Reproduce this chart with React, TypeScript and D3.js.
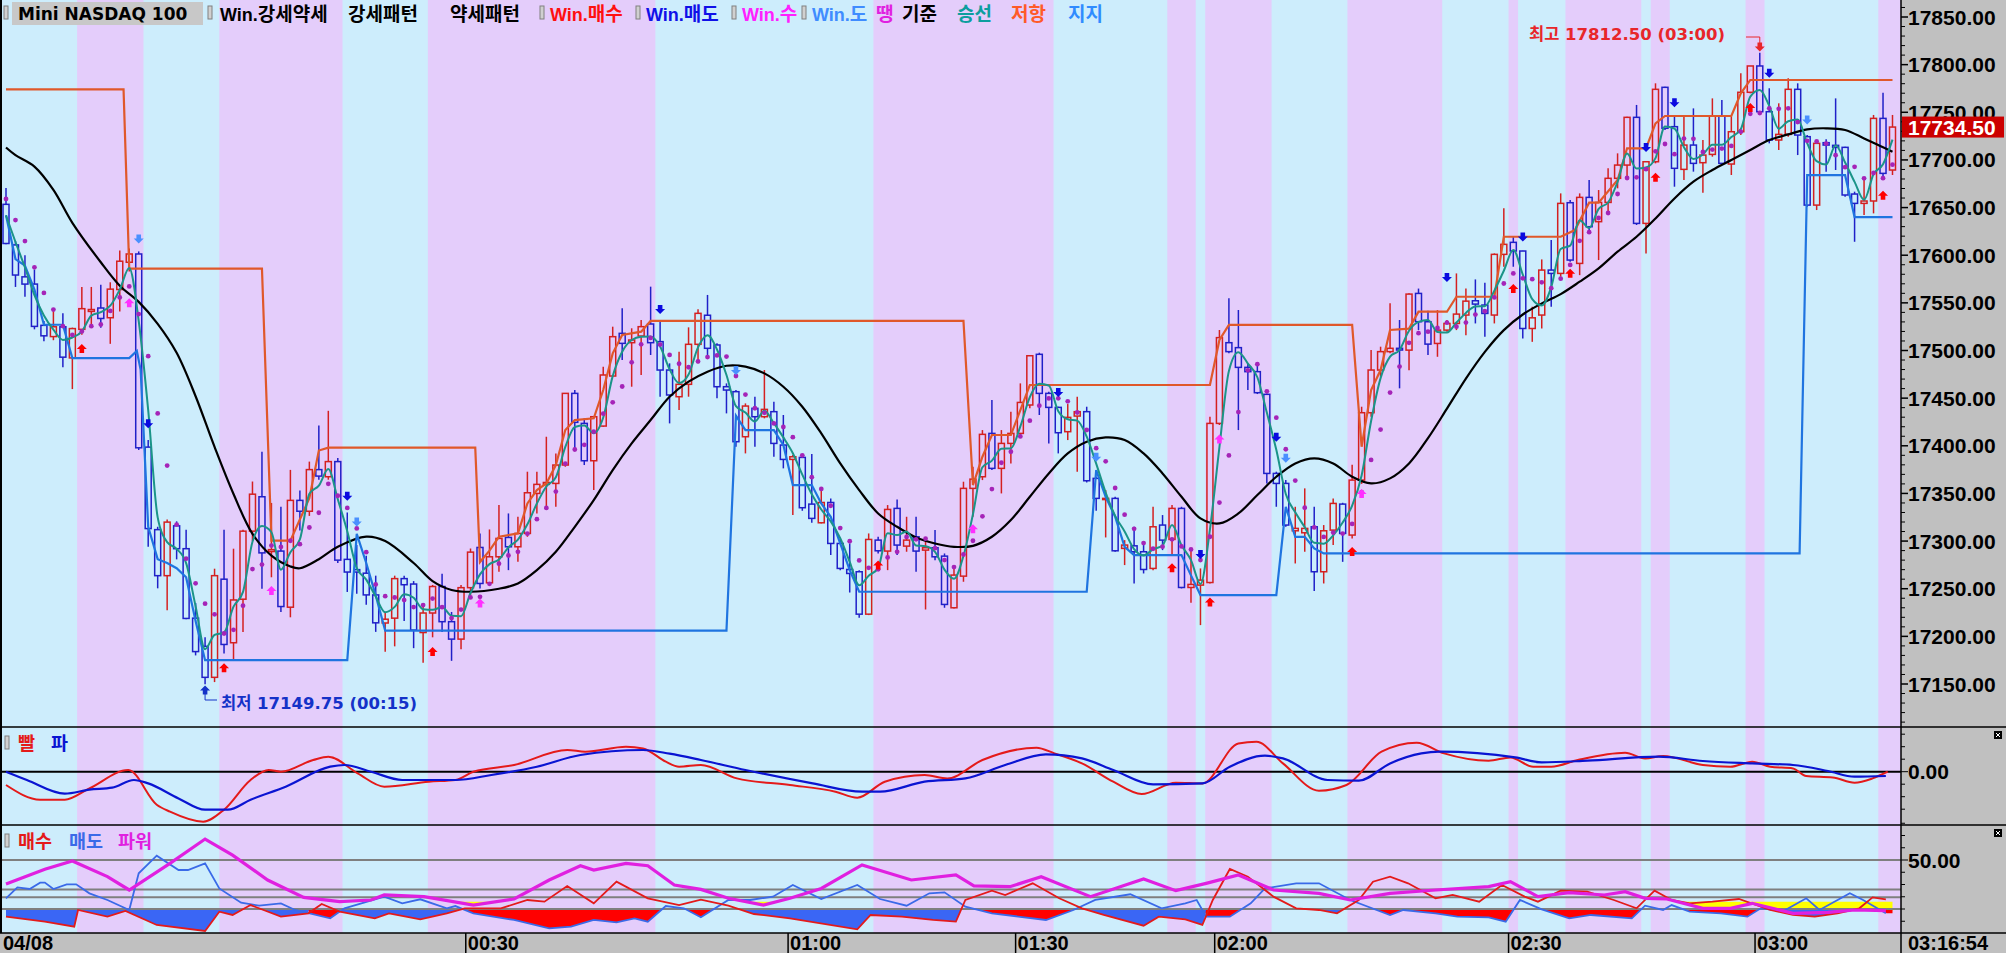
import React from "react";
import * as d3 from "d3";

// ---------------- DATA ----------------
const priorCloses = [17690, 17680, 17663, 17650];

const opens = [17653.4,17610.8,17577.3,17569.7,17526.4,17514.6,17524.9,17492.2,17522.2,17541,17544.6,17534.4,17564,17592.6,17601.3,17398.6,17312,17263.7,17316,17292,17219.1,17189.5,17157,17260,17193.3,17239,17310.4,17346.5,17289,17289.5,17230.6,17342.7,17331.3,17375,17367.5,17383.4,17280.8,17270,17266.3,17243.5,17214,17219.1,17260.6,17254.9,17204,17224.5,17252.3,17215.4,17197.1,17251.1,17293.3,17256.2,17283.5,17303.8,17294,17308,17350,17359.5,17360.5,17379.8,17455,17423.5,17384.3,17420.7,17473.2,17518,17508.2,17515.2,17527.8,17509.3,17479.5,17451.5,17464.5,17506.5,17537,17505.8,17462,17456.8,17409.5,17439.3,17430.5,17435.8,17400.8,17385.7,17387.8,17338.8,17319.2,17340.5,17297.5,17270.2,17267.8,17223.3,17301,17289.5,17334.3,17294.7,17304.5,17290.5,17293,17284.2,17230,17263.2,17355.3,17367.5,17413,17376.3,17402.5,17413,17442.8,17496,17455,17440.3,17414.8,17431.2,17435.8,17365.8,17343.7,17344.8,17292.3,17295,17288.8,17271.3,17316.8,17301.7,17334.3,17251.3,17253.8,17256.5,17423.5,17508.2,17503,17482.3,17477.8,17454,17371,17360.5,17310.8,17308.7,17315,17267.8,17311.5,17338.8,17306.3,17364,17434.7,17479.5,17498.8,17502.3,17500.4,17559.9,17530.2,17507.4,17521.4,17528.4,17537.2,17552.2,17547.7,17537.2,17600.9,17613.5,17604.4,17523.1,17537.2,17584.4,17580.9,17655.1,17591.4,17660.7,17635.2,17655.4,17680.7,17694.6,17744.7,17633.4,17698.1,17776.2,17734.9,17690.1,17715.6,17697.1,17705.8,17746.1,17695.7,17729.6,17771,17798.6,17750.6,17720.9,17726.8,17774.1,17724.4,17652.6,17718.1,17715.3,17713.2,17664.2,17654.4,17656.9,17743.6,17689.4];

const highs = [17670.5,17615,17600,17585,17531,17544.3,17539,17524,17566.7,17566.7,17569,17571.6,17605,17607,17604,17406,17315,17322.6,17320.7,17312,17235,17199,17271,17312,17292,17312,17362.5,17393.7,17340,17336,17374.7,17353,17383.4,17421.4,17436.7,17387.2,17330,17296,17284.6,17263.7,17225.6,17263.7,17263.7,17258,17231.3,17254,17265.6,17225.6,17254,17292.2,17308,17312.2,17337.8,17329,17325.5,17372.8,17372.8,17409.5,17392,17455,17458.5,17428.8,17430.5,17483,17525,17544.3,17523.3,17532,17567,17530.3,17486.5,17498.8,17524.3,17543.2,17558.3,17507.5,17465.5,17458.5,17444.5,17451.5,17479.5,17446.3,17432.3,17390.3,17391.3,17391.3,17353.5,17344.8,17301,17297.5,17269.5,17308,17304.5,17337.8,17343.7,17325.5,17325.5,17301,17311.5,17287,17274.8,17362.3,17378,17416.5,17448,17416.5,17435.8,17465.5,17494.5,17497.7,17456.8,17441,17443.8,17451.5,17441,17367.5,17353.5,17346.5,17301,17315,17299.3,17336,17327.3,17337.8,17336,17292.3,17271.3,17430.5,17521.5,17554.8,17542.5,17486.5,17484.8,17455,17372.8,17364,17336,17355.3,17336,17316.8,17344.8,17340.2,17380,17441,17500.5,17504,17549.5,17532,17560,17565,17541.7,17542.4,17531.9,17580.9,17565,17574.6,17571.1,17601.9,17649.2,17619.4,17604.7,17545.9,17595.6,17615.9,17664.9,17657.9,17664.9,17678.9,17668.4,17691.2,17706.9,17745.4,17757.7,17698.1,17780.4,17776.9,17745.4,17747.2,17754.1,17720.9,17764.6,17762.9,17745.4,17790.9,17798.6,17812.5,17775.2,17759.4,17785.6,17780.4,17726.1,17720.9,17721.6,17764.6,17713.9,17666.7,17678.9,17747.2,17770.6,17747.2];

const lows = [17611.5,17566.7,17556.4,17522.2,17509.7,17510.8,17482.3,17459.5,17516.5,17524,17524,17507,17541,17583,17395.6,17294,17250.4,17227.5,17280.8,17218,17180,17149.75,17152,17182,17176,17204.7,17300,17250,17262,17225.6,17220,17311,17326.4,17364.4,17364.4,17277,17246.6,17244.7,17233.3,17204.7,17183.8,17189.5,17216,17187.6,17172.4,17199,17204.7,17174.3,17186.5,17242.8,17250.2,17253.8,17267.8,17269.5,17278.2,17304.5,17329,17336,17336,17378,17395.5,17379.8,17353.5,17420,17472.5,17490,17462,17474.3,17495.3,17451.5,17423.5,17437.5,17451.5,17486.5,17493.5,17449.8,17434,17399,17392,17399,17428.8,17388.5,17376.3,17327.3,17331.8,17319.2,17318.5,17285.3,17269.5,17246,17219.5,17222.3,17287,17269.5,17285.3,17288.8,17267.8,17228.2,17280,17230,17229.3,17257.3,17325.5,17364,17374.5,17350,17381.5,17409.5,17439.3,17432.3,17402.5,17392,17406,17372.8,17361.5,17331.8,17303.8,17288.8,17274.8,17255.5,17266,17269.5,17290.5,17285.3,17250.3,17235.2,17211.8,17255.5,17421.8,17497,17416.5,17458.5,17454.3,17360.5,17336,17315,17276.5,17288.8,17247.5,17255.5,17295.8,17278.2,17302.8,17360,17430.5,17472.5,17497,17460.3,17479.4,17521.4,17495.2,17493.4,17519.6,17521.4,17516.1,17528.4,17514.4,17528.4,17587.9,17587.9,17512.6,17509.1,17523.1,17545.9,17577.4,17593.1,17579.1,17624.6,17594.9,17643.9,17670.2,17678.9,17631.7,17601.9,17696.4,17731.4,17671.9,17678.9,17687.7,17665.6,17703.4,17694.6,17684.2,17726.1,17769.9,17748.9,17717.4,17710.4,17724.4,17705.1,17650.9,17647.4,17687.7,17689.4,17661.4,17614.1,17642.1,17643.9,17680.7,17684.2];

const closes = [17612.3,17579.2,17569.7,17525.3,17515.4,17524.9,17493,17523,17543.9,17543,17533.6,17564.4,17593.7,17601.3,17397.9,17313.1,17263.7,17319.9,17292,17218.8,17184,17157,17263.7,17191.5,17238.2,17310.4,17349.2,17287.6,17291,17231.3,17342.7,17331.3,17375,17368.2,17383.4,17280,17267.5,17267.5,17243.5,17214.2,17218,17260.6,17254.2,17206.6,17224.5,17252.3,17215.4,17197.1,17251.1,17288.4,17255.5,17283.5,17302.8,17294,17308,17350.7,17359.5,17361.5,17379.8,17455,17424.6,17384.3,17430.5,17474.3,17514.5,17507.5,17511,17525,17508.2,17479.5,17453.3,17464.5,17506.5,17539,17502.3,17462,17458.5,17404.3,17441.7,17430.5,17438.2,17402.5,17385.7,17388.5,17335,17323.8,17340.5,17297.5,17271.3,17266,17223.3,17301.7,17289.8,17333.2,17295.8,17301,17289.5,17293,17283.5,17233.5,17264.3,17355.3,17365,17412,17376.3,17402.5,17413,17445.5,17494.5,17455,17440.3,17413.7,17429.8,17435.8,17363.3,17344.8,17344.8,17289.8,17295.8,17288.8,17270.2,17315,17301,17334.3,17251.3,17254.5,17259,17423.5,17513.5,17498.8,17482.3,17477.8,17455.7,17371,17360.5,17316.8,17313.3,17313.3,17267.8,17310.8,17339.5,17308,17364,17434.7,17479.5,17498.8,17502.3,17500.5,17559.2,17530.2,17506.7,17521.4,17528.4,17538.2,17551.8,17548.7,17538.9,17600.9,17611.4,17604.4,17523.1,17534.3,17584.4,17580.9,17654.4,17594.9,17660.7,17629.9,17655.4,17680.7,17694.6,17744.7,17633.4,17698.1,17774.1,17733.2,17691.2,17715.6,17696.4,17705.1,17746.1,17696.4,17729.6,17771,17798.6,17750.6,17720.9,17726.8,17774.1,17726.1,17652.6,17717.4,17715.6,17713.2,17663.2,17654.4,17656.9,17743.6,17685.9,17734.5];

// 기준 (black) keypoints [bar, price]
const baseKeys = [[0,17713],[1,17705],[3,17693],[5,17668.6],[7,17634],[10,17592.6],[12,17568],[14,17551],[16,17528],[18,17497.6],[20,17452],[22,17398.8],[24,17349.4],[26,17307.6],[28,17284.8],[30,17273.4],[31,17271.5],[33,17281],[35,17294],[38,17304.6],[40,17300],[43,17277],[45,17258],[47,17248.7],[49,17246.8],[52,17250],[54,17255.5],[56,17269.5],[58,17288.8],[60,17315],[62,17343],[64,17374.5],[66,17402.5],[68,17427],[70,17451.5],[72,17467.3],[74,17477.8],[76,17484],[78,17483],[80,17476],[82,17462],[84,17441],[86,17413],[88,17381.5],[90,17353.5],[92,17329],[94,17315],[96,17303.8],[98,17297.5],[100,17294],[102,17295],[104,17304.5],[106,17322],[108,17346.5],[110,17371],[112,17392],[114,17404.3],[116,17408.8],[118,17406],[120,17392],[122,17371],[124,17346.5],[126,17323.8],[128,17318.5],[130,17329],[132,17348.3],[134,17367.5],[136,17381.5],[138,17386.8],[140,17381.5],[142,17367.5],[144,17360.5],[146,17365.8],[148,17381.5],[150,17408],[152,17439],[154,17470.6],[156,17498.6],[158,17521.4],[160,17537.8],[162,17549.4],[164,17559.2],[166,17572.2],[168,17586.2],[170,17603.7],[172,17619.4],[174,17638.6],[176,17659.6],[178,17677.2],[180,17689.4],[182,17699.9],[184,17710.4],[186,17720.9],[188,17726.8],[190,17732.1],[192,17733.2],[194,17731.4],[196,17722.6],[198,17713.2],[199,17708.6]];

// 지지 (support) keypoints
const supportKeys = [[0,17642],[1,17596],[2,17589],[3,17564],[4,17527],[6,17527],[7,17492],[13,17492],[13.8,17499.5],[14.2,17480],[15,17315],[16,17281],[17,17277],[18,17271.5],[19,17262],[20,17216],[21,17175],[36,17175],[37,17307.6],[38,17277],[39,17243],[40,17206],[76,17206],[77,17431.5],[78,17416.5],[81,17416.5],[82,17400.8],[83,17358.8],[85,17358.8],[86,17339.5],[87,17325.5],[88,17297.5],[89,17269.5],[90,17246.8],[114,17246.8],[115,17374.5],[116,17346.5],[117,17325.5],[118,17294],[119,17285.3],[124,17285.3],[125,17264],[126,17243.3],[134,17243.3],[135,17336],[136,17304.5],[137,17304.5],[138,17292.3],[139,17287],[189.2,17287],[190,17684],[194,17684],[195,17640],[199,17640]];

// 저항 (resistance) keypoints
const resistKeys = [[0,17774],[12.4,17774],[13,17586],[27,17586],[28,17300.5],[30,17300.5],[32,17345],[33,17395],[34,17398],[49.5,17398],[50,17278],[51,17290],[52,17304.5],[54,17308],[55,17339.5],[56,17353.5],[57,17360.5],[58,17379.8],[59,17416.5],[60,17427],[62,17428.8],[63,17458.5],[64,17497],[65,17516.3],[67,17519.8],[68,17531],[101,17531],[102,17358.8],[103,17388.5],[104,17411.3],[106,17411.3],[107,17437.5],[108,17463.8],[127,17463.8],[128,17511],[129,17526.8],[142,17526.8],[143,17399],[144,17458.5],[145,17479.5],[146,17521.5],[148,17523],[149,17540.7],[152,17540.7],[153,17556.4],[157,17556.4],[158,17619.4],[164,17619.4],[165.5,17626.4],[167,17655.1],[168,17655.1],[170,17678.9],[171,17712.2],[173,17712.2],[174,17738.4],[175,17746.1],[182,17746.1],[183,17769.9],[184,17783.9],[199,17783.9]];

// signal arrows [bar, price]
const buySignals = [[8,17502],[23,17167],[45,17184],[92,17275],[123,17272],[127,17236],[142,17289],[159,17565],[165,17581],[174,17681.7],[184,17755],[198,17663]];
const sellSignals = [[15,17423],[36,17347],[69,17543],[111,17456],[126,17286],[134,17409],[152,17576.7],[160,17619],[173,17713],[176,17760],[186,17791]];
const buy2Signals = [[13,17550],[28,17248],[50,17235],[102,17313],[128,17407],[143,17350]];
const sell2Signals = [[14,17617],[37,17320],[77,17479],[115,17388],[135,17387],[190,17742]];

// background bands (bars)
const bandStarts = [8,23,45,92,123,127,142,159,165,174,184,198];
const bandEnds = [14,35,68,110,125,133,151,159,172,175,185,199];

// 빨 / 파 oscillator keypoints [bar, value]
const redOsc = [[0,-13.3],[3.6,-28],[6.2,-28],[8.8,-16.7],[12.9,1.7],[15.9,-33],[17.3,-40],[20.8,-50],[23,-38],[25.8,-8.3],[27.7,1.7],[29,0],[32.4,11.7],[34,15],[37.1,-1.7],[39.9,-15],[44.6,-10],[47.4,-8.3],[49.3,0],[53.6,6.7],[59.2,21.7],[61.1,20],[65.4,25],[67.2,23.3],[69.6,10],[71,5],[73.3,6.7],[77.1,-6.7],[82.7,-13.3],[87.5,-20],[89.8,-26],[92.7,-10],[96.9,-3.3],[99.3,-6.7],[103,11.7],[108.7,24],[110.6,18.3],[113.5,8.3],[116.8,-10],[119.8,-22.3],[123.4,-11],[126.2,-11.7],[130,28.3],[131.9,30],[134.7,8.3],[138.5,-19],[141.4,-13.3],[145.1,20],[148.8,29],[151.7,18.3],[156.4,11],[158.7,14.3],[161.1,5],[163,5],[165.8,11.7],[170.8,19],[172.9,13.3],[174.8,15.7],[179,6.7],[181.9,5],[184.2,10],[186.1,5],[188.5,3.3],[189.9,-4.3],[192.7,-5.7],[195,-11],[196.9,-6.7],[198.5,0]];
const blueOsc = [[0,0],[2.2,-8.3],[6.2,-22],[8.8,-18],[11.2,-16],[13.5,-8.3],[15,-11.7],[18.2,-26.7],[21,-38],[23.4,-38],[25.8,-28],[29.5,-15],[34.2,5],[35.7,6.7],[38.5,0],[41.8,-8.3],[47.4,-8.3],[51.2,-3.3],[56,5],[60.6,16.7],[67.2,21.7],[70,18],[73.3,11.7],[78,1.7],[85.1,-11.7],[90.3,-20],[92.2,-20],[96.9,-10],[101.2,-6.7],[105.4,6.7],[109.7,17.3],[113.5,13.3],[116.8,1.7],[121,-12.7],[126.2,-11.7],[129.1,5],[132.8,16],[134.7,13.3],[139.4,-8.3],[142.7,-9],[146,8.3],[149.3,18.3],[151.2,20],[159.2,14.3],[162,9.3],[166.8,11],[174.3,15],[179,10.7],[184.2,8.3],[188.5,6.7],[192.2,0.7],[195,-5],[198.3,-4.3]];

// 매수 / 매도 / 파워 keypoints [bar, value]
const buyPow = [[0,-7.8],[4.1,-12.9],[7.2,-18],[7.6,-1],[10.7,-7.8],[12.6,-2],[15.9,-16.3],[21,-22.4],[22.5,-2.7],[23.9,-6.1],[25.8,4],[29,-7.8],[31.9,-4.4],[33.3,5.1],[35.2,-2.7],[38.9,-9.5],[40.4,-4.4],[43.7,-10.5],[46.5,-4.4],[48.4,0.7],[52.2,0.7],[55,9.2],[56.8,7.5],[59.2,23.5],[62,5.8],[64.4,27.9],[67.7,10.9],[71,4],[73.3,9.5],[76.2,3.4],[78.9,-5.1],[82.7,-9.5],[89.8,-20.7],[91.2,-6.1],[94.5,-7.8],[97.8,-11.2],[100.2,-12.9],[101.2,9.2],[104,18.7],[105.4,14.3],[108.3,26.2],[111.1,10.9],[113.5,0.7],[115.8,-6.1],[120,-17],[121.6,-7.8],[124.4,-10.5],[126.2,-16.3],[127.3,9.2],[129.1,40.8],[131,33],[133.7,12.6],[136.1,0.7],[138.5,-1],[140.4,-4.4],[142.7,9.2],[144.2,27.9],[146,33],[147.9,26.2],[150.8,10.9],[152.6,14.3],[155.4,7.5],[157.8,24.5],[160.2,12.6],[161.6,7.5],[164,18.7],[166.8,17.7],[169.6,9.2],[172,0.7],[173.9,18.7],[175.7,9.2],[177.6,5.8],[180,7.5],[182.8,10.2],[186.1,-1],[188.5,-6.1],[190.8,-7.8],[193.2,-4.4],[195.5,0.7],[196.9,11.9],[198.3,9.9]];
const sellPow = [[0,10.9],[1.2,22.1],[2.5,20.4],[3.6,26.9],[4.1,26.9],[5,20.4],[6.4,25.2],[7.4,25.2],[8.8,16],[10.7,9.2],[13,-1],[14,36.4],[15.9,54.4],[18.2,39.8],[19.2,39.8],[21,46.6],[22.5,21],[24.8,6.5],[26.7,3.4],[29,5.8],[30.5,-1],[34.2,-9.5],[35.7,0.7],[39.9,12.6],[41.8,5.8],[43.7,9.9],[46.5,0.7],[47.4,3],[49.3,-4.4],[53.6,-11.2],[57.3,-19.7],[59.6,-18],[62,-11.2],[64.4,-13.6],[66.3,-9.5],[67.7,-12.9],[69.6,3],[71.5,0.7],[73.3,-8.5],[76.2,9.2],[78.5,9.2],[80.9,12.6],[83,24.5],[86,10.2],[89.8,24.5],[92.2,10.2],[95,3.4],[97.4,16],[99,17],[101.2,2.4],[104,-4.4],[109.7,-11.2],[112.6,-1],[114.9,9.2],[118.6,15],[121.9,0.7],[124.4,5.8],[125.6,9.2],[126.6,-7.8],[129.1,-7.8],[131.3,5.8],[132.8,21],[136.1,26.2],[138.5,26.2],[141.8,9.2],[146,-6.1],[147.4,-1],[150.8,-4.4],[153.1,-7.8],[156.4,-8.5],[158.2,-12.9],[159.7,9.2],[162,-0.3],[164.9,-9.5],[167.2,-6.1],[171.5,-9.5],[172.9,3.4],[174.8,-1],[175.7,4],[177.6,-2.7],[180.9,-4.4],[183.7,-7.8],[185.1,0.7],[187.5,-2],[189.9,10.9],[191.3,-1],[194.5,16],[195.9,9.2],[198.3,-4.4]];
const powerLine = [[0,25.5],[4.1,40.5],[7,49],[10.7,33],[13,19.4],[17.3,46.6],[21,71.4],[23.9,55],[27.6,29.6],[31.4,11.9],[35.2,7.5],[38.5,9.2],[39.9,14.3],[44.1,12.6],[49.3,4],[53.6,10.2],[57.3,29.6],[60.6,44.2],[62,39.8],[65.4,46.6],[67.7,44.2],[70.5,24.5],[73.3,20],[76.2,10.9],[79.9,4],[82.7,10.9],[86,21],[90.3,45],[95.5,29.6],[100.2,34.7],[102.1,23.5],[105.9,22.8],[109.2,33],[114.4,12.6],[120,30.6],[123.4,18.7],[126.6,26.2],[130,34.7],[133.7,19.4],[138.5,16],[141.8,9.2],[146,16],[150.8,19.4],[156.4,22.8],[158.7,27.9],[161.6,12.6],[164.9,16.7],[168.6,14.3],[170.8,17.7],[172.9,10.9],[175.2,10.2],[179,0.7],[181.9,0.7],[184.2,5.8],[188.5,-4.4],[192.2,-3.4],[195,-1],[198.3,-1.7]];
const powerLevels = [50, 20, 12, 0];
const yellowLevel = 7.5;

const timeTickBars = [0, 49, 83, 107, 128, 159, 185];
const timeTickLabels = ["04/08", "00:30", "01:00", "01:30", "02:00", "02:30", "03:00"];
const lastTime = "03:16:54";

const legendItems = [
  { t: "Win.강세약세", c: "#000000", x: 220 },
  { t: "강세패턴", c: "#000000", x: 348 },
  { t: "약세패턴", c: "#000000", x: 450 },
  { t: "Win.매수", c: "#ff1010", x: 550 },
  { t: "Win.매도", c: "#1010e8", x: 646 },
  { t: "Win.수", c: "#ff20ff", x: 742 },
  { t: "Win.도", c: "#3f8cff", x: 812 },
  { t: "땡", c: "#e020e0", x: 876 },
  { t: "기준", c: "#000000", x: 902 },
  { t: "승선", c: "#0d9e9e", x: 957 },
  { t: "저항", c: "#ff5a28", x: 1011 },
  { t: "지지", c: "#2f8cff", x: 1068 },
];
const legendMarkers = [4, 208, 540, 636, 732, 802];

// ---------------- COLORS ----------------
const BG_BLUE = "#cdedfc";
const BG_PURPLE = "#e4cdfb";
const AXIS_GRAY = "#c0c0c0";
const UP = "#d42020";
const DOWN = "#2020c8";
const FONT_NUM = "'Liberation Sans', Arial, sans-serif";
const FONT_TXT = "'DejaVu Sans', 'Noto Sans CJK KR', sans-serif";
const FONT_KR = "'Noto Sans CJK KR', sans-serif";

function upArrow(cx: number, cy: number) {
  const hw = 5, hh = 5, sw = 2.3, sh = 4;
  const t = cy - (hh + sh) / 2;
  return `M${cx},${t}L${cx + hw},${t + hh}L${cx + sw},${t + hh}L${cx + sw},${t + hh + sh}L${cx - sw},${t + hh + sh}L${cx - sw},${t + hh}L${cx - hw},${t + hh}Z`;
}
function downArrow(cx: number, cy: number) {
  const hw = 5, hh = 5, sw = 2.3, sh = 4;
  const b = cy + (hh + sh) / 2;
  return `M${cx},${b}L${cx + hw},${b - hh}L${cx + sw},${b - hh}L${cx + sw},${b - hh - sh}L${cx - sw},${b - hh - sh}L${cx - sw},${b - hh}L${cx - hw},${b - hh}Z`;
}

// split text into Hangul / non-Hangul runs
function runs(t: string) {
  const out: { s: string; k: boolean }[] = [];
  for (const ch of t) {
    const k = /[\u3131-\uD79D]/.test(ch);
    if (out.length && out[out.length - 1].k === k) out[out.length - 1].s += ch;
    else out.push({ s: ch, k });
  }
  return out;
}

export default function App() {
  const PR = 1901; // plot right edge
  const x = d3.scaleLinear().domain([0, 199]).range([6, 1892.5]);
  const half = (x(1) - x(0)) / 2;
  const yMain = d3.scaleLinear().domain([17850, 17150]).range([17, 684]);
  const yOsc = d3.scaleLinear().domain([0, 40]).range([771.7, 731.7]);
  const yPow = d3.scaleLinear().domain([0, 50]).range([909, 860]);

  const allC = [...priorCloses, ...closes];
  const sma = (n: number) => closes.map((_, i) => d3.mean(allC.slice(i + 5 - n, i + 5)) as number);
  const teal = sma(3);
  const dots = sma(5);

  const lineMain = (curve: any) => d3.line<any>().x((d) => x(d[0])).y((d) => yMain(d[1])).curve(curve);
  const lineOsc = d3.line<any>().x((d) => x(d[0])).y((d) => yOsc(d[1])).curve(d3.curveMonotoneX);
  const linePow = d3.line<any>().x((d) => x(d[0])).y((d) => yPow(d[1]));

  const pw = (arr: number[][]) => d3.scaleLinear().domain(arr.map((d) => d[0])).range(arr.map((d) => d[1])).clamp(true);
  const rF = pw(buyPow), bF = pw(sellPow), mF = pw(powerLine);
  const samples = d3.range(0, 199.001, 0.2);
  const redArea = d3.area<number>().x((t) => x(t)).y0(yPow(0)).y1((t) => {
    const r = rF(t), b = bF(t);
    return r > b ? yPow(Math.min(b, 0)) : yPow(0);
  })(samples);
  const blueArea = d3.area<number>().x((t) => x(t)).y0(yPow(0)).y1((t) => {
    const r = rF(t), b = bF(t);
    return r <= b ? yPow(Math.min(r, 0)) : yPow(0);
  })(samples);
  const yellowArea = d3.area<number>().x((t) => x(t)).y0(yPow(yellowLevel)).y1((t) => yPow(Math.min(mF(t), yellowLevel)))(samples);

  const majors = d3.range(17150, 17851, 50);
  const minors = d3.range(17110, 17870, 10).filter((v) => v % 50 !== 0);

  const lastY = yMain(closes[closes.length - 1]);

  return (
    <svg width={2006} height={953} style={{ position: "absolute", left: 0, top: 0, display: "block", background: "#fff" }}>
      <defs>
        <clipPath id="cMain"><rect x={0} y={0} width={PR} height={727} /></clipPath>
        <clipPath id="cOsc"><rect x={0} y={727} width={PR} height={98} /></clipPath>
        <clipPath id="cPow"><rect x={0} y={825} width={PR} height={108} /></clipPath>
      </defs>

      <rect x={0} y={0} width={PR} height={933} fill={BG_BLUE} />
      {bandStarts.map((s, i) => {
        const x0 = x(s) - half;
        const x1 = i === bandStarts.length - 1 ? PR : x(bandEnds[i]) + half;
        return <rect key={"b" + i} x={x0} y={0} width={x1 - x0} height={933} fill={BG_PURPLE} />;
      })}

      {/* ---------- main panel ---------- */}
      <g clipPath="url(#cMain)">
        {closes.map((c, i) => {
          const o = opens[i];
          const col = c >= o ? UP : DOWN;
          const cx = x(i);
          const top = yMain(Math.max(o, c));
          const bot = yMain(Math.min(o, c));
          const h = Math.max(bot - top, 1.2);
          return (
            <g key={"c" + i} stroke={col} strokeWidth={1.5} fill="none">
              <line x1={cx} x2={cx} y1={yMain(highs[i])} y2={top} />
              <line x1={cx} x2={cx} y1={top + h} y2={yMain(lows[i])} />
              <rect x={cx - 3} y={top} width={6} height={h} />
            </g>
          );
        })}
        <path d={lineMain(d3.curveCatmullRom)(baseKeys) || ""} fill="none" stroke="#000" strokeWidth={2.2} />
        <path d={lineMain(d3.curveLinear)(resistKeys) || ""} fill="none" stroke="#e0582a" strokeWidth={2.2} />
        <path d={lineMain(d3.curveLinear)(supportKeys) || ""} fill="none" stroke="#1f74e0" strokeWidth={2.2} />
        <path d={lineMain(d3.curveMonotoneX)(teal.map((v, i) => [i, v])) || ""} fill="none" stroke="#1b9488" strokeWidth={2} />
        {dots.map((v, i) => (
          <circle key={"d" + i} cx={x(i)} cy={yMain(v)} r={2.4} fill="#a524b8" />
        ))}
        {buySignals.map((d, i) => <path key={"bs" + i} d={upArrow(x(d[0]), yMain(d[1]))} fill="#ff0000" />)}
        {buy2Signals.map((d, i) => <path key={"bs2" + i} d={upArrow(x(d[0]), yMain(d[1]))} fill="#ff30ff" />)}
        {sellSignals.map((d, i) => <path key={"ss" + i} d={downArrow(x(d[0]), yMain(d[1]))} fill="#0a0ae0" />)}
        {sell2Signals.map((d, i) => <path key={"ss2" + i} d={downArrow(x(d[0]), yMain(d[1]))} fill="#4a90ff" />)}

        <text x={1529} y={40} fontFamily={FONT_TXT} fontWeight="bold" fontSize={16.5} fill="#e8262a">최고 17812.50 (03:00)</text>
        <polyline points={`1746,37 ${x(185)},37 ${x(185)},43`} fill="none" stroke="#e8262a" strokeWidth={1} />
        <path d={downArrow(x(185), 47)} fill="#e8262a" />
        <path d={upArrow(x(21), 690)} fill="#1432c8" />
        <polyline points={`${x(21)},694 ${x(21)},700 217,700`} fill="none" stroke="#1432c8" strokeWidth={1} />
        <text x={221} y={709} fontFamily={FONT_TXT} fontWeight="bold" fontSize={16.5} fill="#1432c8">최저 17149.75 (00:15)</text>
      </g>

      {/* legend */}
      <rect x={12} y={2} width={191} height={23} fill="#c8c8c8" />
      {legendMarkers.map((mx, i) => (
        <rect key={"lm" + i} x={mx} y={6} width={4} height={13} fill="#d0d0d0" stroke="#808080" strokeWidth={1} />
      ))}
      <text x={18} y={20} fontFamily={FONT_TXT} fontWeight="bold" fontSize={17} fill="#000">Mini NASDAQ 100</text>
      {legendItems.map((it, i) => (
        <text key={"lg" + i} x={it.x} y={21} fontWeight="bold" fill={it.c}>
          {runs(it.t).map((r, j) => (
            <tspan key={j} fontFamily={r.k ? FONT_KR : FONT_NUM} fontSize={r.k ? 19 : 18}>{r.s}</tspan>
          ))}
        </text>
      ))}

      {/* ---------- oscillator panel ---------- */}
      <g clipPath="url(#cOsc)">
        <line x1={0} x2={PR} y1={yOsc(0)} y2={yOsc(0)} stroke="#000" strokeWidth={2} />
        <path d={lineOsc(redOsc) || ""} fill="none" stroke="#e41a1a" strokeWidth={2} />
        <path d={lineOsc(blueOsc) || ""} fill="none" stroke="#0a14d2" strokeWidth={2.2} />
      </g>
      <rect x={5} y={736} width={4} height={13} fill="#d0d0d0" stroke="#808080" strokeWidth={1} />
      <text x={18} y={750} fontFamily={FONT_KR} fontWeight="bold" fontSize={18.5} fill="#e41a1a">빨</text>
      <text x={51} y={750} fontFamily={FONT_KR} fontWeight="bold" fontSize={18.5} fill="#0a14d2">파</text>

      {/* ---------- power panel ---------- */}
      <g clipPath="url(#cPow)">
        <path d={yellowArea || ""} fill="#ffff00" />
        <path d={redArea || ""} fill="#ff0000" />
        <path d={blueArea || ""} fill="#3a66f5" />
        {powerLevels.map((lv, i) => (
          <line key={"pl" + i} x1={0} x2={PR} y1={yPow(lv)} y2={yPow(lv)} stroke="#7f7f7f" strokeWidth={2} />
        ))}
        <path d={linePow(sellPow) || ""} fill="none" stroke="#3a6ae8" strokeWidth={1.8} />
        <path d={linePow(buyPow) || ""} fill="none" stroke="#e41a1a" strokeWidth={1.8} />
        <path d={linePow(powerLine) || ""} fill="none" stroke="#e020e0" strokeWidth={3.2} />
      </g>
      <rect x={5} y={834} width={4} height={13} fill="#d0d0d0" stroke="#808080" strokeWidth={1} />
      <text x={18} y={848} fontFamily={FONT_KR} fontWeight="bold" fontSize={18.5} fill="#e41a1a">매수</text>
      <text x={69} y={848} fontFamily={FONT_KR} fontWeight="bold" fontSize={18.5} fill="#3a6ae8">매도</text>
      <text x={118} y={848} fontFamily={FONT_KR} fontWeight="bold" fontSize={18.5} fill="#e020e0">파워</text>

      {/* ---------- axes ---------- */}
      <rect x={PR} y={0} width={2006 - PR} height={953} fill={AXIS_GRAY} />
      <rect x={0} y={933} width={2006} height={20} fill={AXIS_GRAY} />
      <line x1={1} x2={1} y1={0} y2={933} stroke="#000" strokeWidth={2} />
      <line x1={PR} x2={PR} y1={0} y2={953} stroke="#000" strokeWidth={1.5} />
      {[727, 825, 933].map((yy) => (
        <line key={"sep" + yy} x1={0} x2={2006} y1={yy} y2={yy} stroke="#000" strokeWidth={1.5} />
      ))}

      {minors.map((v) => (
        <line key={"mn" + v} x1={PR} x2={PR + 4} y1={yMain(v)} y2={yMain(v)} stroke="#000" strokeWidth={1} />
      ))}
      {majors.map((v) => (
        <g key={"mj" + v}>
          <line x1={PR} x2={PR + 7} y1={yMain(v)} y2={yMain(v)} stroke="#000" strokeWidth={1.5} />
          <text x={1908} y={yMain(v)} dominantBaseline="central" fontFamily={FONT_NUM} fontWeight="bold" fontSize={21} fill="#000">
            {d3.format(".2f")(v)}
          </text>
        </g>
      ))}
      <rect x={1902} y={lastY - 10.5} width={102} height={21} fill="#cc0000" />
      <text x={1908} y={lastY} dominantBaseline="central" fontFamily={FONT_NUM} fontWeight="bold" fontSize={21} fill="#fff">
        {d3.format(".2f")(closes[closes.length - 1])}
      </text>

      {d3.range(-3, 4).map((k) => (
        <line key={"ot" + k} x1={PR} x2={PR + (k === 0 ? 7 : 4)} y1={yOsc(0) - k * 12.5} y2={yOsc(0) - k * 12.5} stroke="#000" strokeWidth={1} />
      ))}
      <text x={1908} y={yOsc(0)} dominantBaseline="central" fontFamily={FONT_NUM} fontWeight="bold" fontSize={21} fill="#000">0.00</text>
      <rect x={1994} y={731} width={8} height={8} fill="#000" />
      <path d="M1996,733L2000,737M2000,733L1996,737" stroke="#fff" strokeWidth={1} />

      {d3.range(-5, 4).map((k) => (
        <line key={"pt" + k} x1={PR} x2={PR + (k === 0 ? 7 : 4)} y1={yPow(50) - k * 12.25} y2={yPow(50) - k * 12.25} stroke="#000" strokeWidth={1} />
      ))}
      <text x={1908} y={yPow(50)} dominantBaseline="central" fontFamily={FONT_NUM} fontWeight="bold" fontSize={21} fill="#000">50.00</text>
      <rect x={1994} y={829} width={8} height={8} fill="#000" />
      <path d="M1996,831L2000,835M2000,831L1996,835" stroke="#fff" strokeWidth={1} />

      {timeTickBars.map((b, i) => {
        const tx = i === 0 ? 1 : x(b) - half;
        return (
          <g key={"tt" + i}>
            {i > 0 && <line x1={tx} x2={tx} y1={933} y2={953} stroke="#000" strokeWidth={1.5} />}
            <text x={tx + 2} y={950} fontFamily={FONT_NUM} fontWeight="bold" fontSize={20} fill="#000">{timeTickLabels[i]}</text>
          </g>
        );
      })}
      <text x={1908} y={950} fontFamily={FONT_NUM} fontWeight="bold" fontSize={20} fill="#000">{lastTime}</text>
    </svg>
  );
}
